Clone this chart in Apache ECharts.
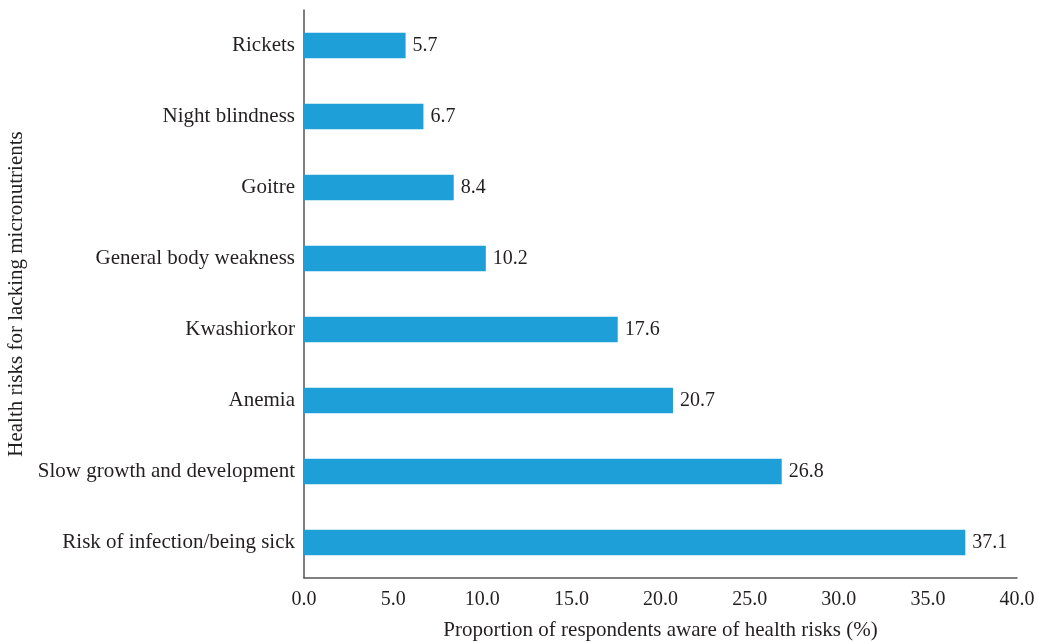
<!DOCTYPE html>
<html>
<head>
<meta charset="utf-8">
<script src="https://cdn.jsdelivr.net/npm/echarts@6/dist/echarts.min.js"></script>
<style>
  html, body { margin: 0; padding: 0; background: #fff; }
  #chart { width: 1037px; height: 643px; }
</style>
</head>
<body>
<div id="chart"></div>
<script>
// categories listed bottom to top
const categories = [
  "Risk of infection/being sick",
  "Slow growth and development",
  "Anemia",
  "Kwashiorkor",
  "General body weakness",
  "Goitre",
  "Night blindness",
  "Rickets"
];
const values = [37.1, 26.8, 20.7, 17.6, 10.2, 8.4, 6.7, 5.7];

const font = "'Liberation Serif', 'DejaVu Serif', serif";
const textColor = "#231f20";

const chart = echarts.init(document.getElementById("chart"));
chart.setOption({
  animation: false,
  grid: {
    left: 304, top: 10, width: 713, height: 568,
    containLabel: false, outerBoundsMode: "none"
  },
  xAxis: {
    type: "value",
    min: 0,
    max: 40,
    interval: 5,
    name: "Proportion of respondents aware of health risks (%)",
    nameLocation: "middle",
    nameGap: 42,
    nameTextStyle: { fontFamily: font, fontSize: 21, color: textColor },
    axisLine: { show: true, lineStyle: { color: "#555", width: 1.5 } },
    axisTick: { show: false },
    splitLine: { show: false },
    axisLabel: {
      fontFamily: font, fontSize: 20, color: textColor, margin: 12,
      formatter: v => v.toFixed(1)
    }
  },
  yAxis: {
    type: "category",
    data: categories,
    name: "Health risks for lacking micronutrients",
    nameLocation: "middle",
    nameGap: 273,
    nameRotate: 90,
    nameTextStyle: { fontFamily: font, fontSize: 21, color: textColor },
    axisLine: { show: true, lineStyle: { color: "#555", width: 1.5 } },
    axisTick: { show: false },
    axisLabel: { fontFamily: font, fontSize: 21, color: textColor, margin: 9 }
  },
  series: [{
    type: "bar",
    data: values,
    barWidth: "36%",
    itemStyle: { color: "#1f9fd8" },
    label: {
      show: true,
      position: "right",
      distance: 7,
      fontFamily: font,
      fontSize: 20,
      color: textColor,
      formatter: p => p.value.toFixed(1)
    }
  }]
});
</script>
</body>
</html>
